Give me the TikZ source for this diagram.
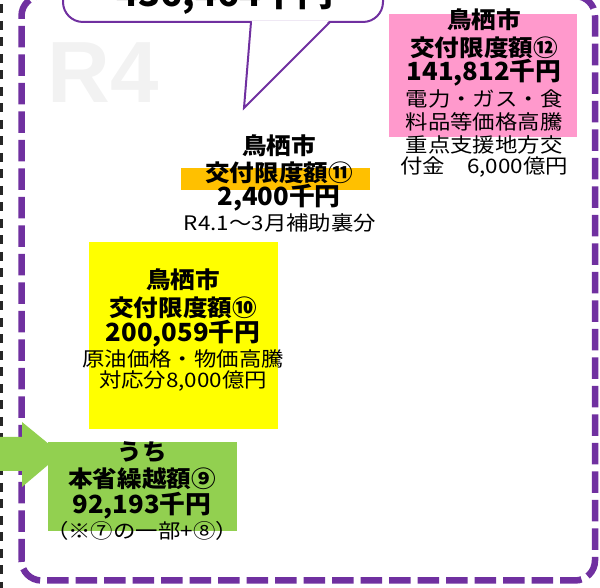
\documentclass[tikz,border=0pt]{standalone}
\usepackage{fontspec}
\setmainfont{Noto Sans CJK JP}
\newfontfamily\wmfont{Liberation Sans}
\newfontfamily\nfont[FakeStretch=1.12]{Noto Sans CJK JP}
\newfontfamily\bfont[FakeStretch=1.07]{Noto Sans CJK JP}
\newfontfamily\afont[FakeStretch=1.03]{Noto Sans CJK JP}
\definecolor{purp}{HTML}{7030A0}
\definecolor{pinkc}{HTML}{FF99CC}
\definecolor{orangec}{HTML}{FFC000}
\definecolor{yellowc}{HTML}{FFFF00}
\definecolor{greenc}{HTML}{92D050}
\definecolor{wmc}{HTML}{F2F2F2}
\begin{document}
\begin{tikzpicture}[x=1pt,y=1pt,
  boxs/.style={draw=none,inner sep=0,outer sep=0},
  bl/.style={inner sep=0,font=\bfont\fontsize{23}{25}\selectfont\bfseries},
  amt/.style={inner sep=0,font=\afont\fontsize{25}{27}\selectfont\bfseries},
  nl/.style={inner sep=0,font=\nfont\fontsize{20}{22}\selectfont},
  purpdash/.style={draw=purp,line width=6.5pt,dash pattern=on 21.5pt off 7pt},
  blackdash/.style={draw=black!85,line width=2.2pt,dash pattern=on 9pt off 7.5pt}]
\useasboundingbox (0,0) rectangle (600,588);
% outer black dashed line
\coordinate (bt) at (1.5,600);
\coordinate (bb) at (1.5,-10);
\draw[blackdash] (bt) -- (bb);
% purple dashed rounded frame
\draw[purpdash,rounded corners=20pt] (21.5,7.5) rectangle (595,592);
% watermark
\node[anchor=base west,inner sep=0,text=wmc,font=\wmfont\bfseries\fontsize{87}{87}\selectfont] (wm) at (47,485) {R4};
% callout
\draw[purp,line width=2pt,fill=white,rounded corners=20pt] (63,566) rectangle (383,660);
\coordinate (cl) at (251,566);
\coordinate (cr) at (330,566);
\coordinate (ctip) at (244,480);
\fill[white] ([xshift=1pt,yshift=1.2pt]cl) -- (ctip) -- ([xshift=-1pt,yshift=1.2pt]cr) -- cycle;
\draw[purp,line width=2pt,line join=miter] (cl) -- (ctip) -- (cr);
\node[anchor=base,inner sep=0,font=\afont\fontsize{35}{37}\selectfont\bfseries] (total) at (225,581) {436,464千円};
% boxes
\node[boxs,fill=pinkc,minimum width=188pt,minimum height=123pt] (pink) at (483,512.5) {};
\node[boxs,fill=orangec,minimum width=189pt,minimum height=22pt] (orange) at (275.5,409) {};
\node[boxs,fill=yellowc,minimum width=189pt,minimum height=187pt] (yellow) at (183.5,252.5) {};
\node[boxs,fill=greenc,minimum width=189pt,minimum height=89pt] (green) at (142.5,101.5) {};
% pink texts
\node[bl] (p1) at (484,568) {鳥栖市};
\node[bl] (p2) at (484,540) {交付限度額⑫};
\node[amt] (p3) at (484,515) {141,812千円};
\node[nl] (p4) at (484,489.5) {電力・ガス・食};
\node[nl] (p5) at (484,466.5) {料品等価格高騰};
\node[nl] (p6) at (484,443) {重点支援地方交};
\node[nl] (p7) at (484,421.5) {付金　6,000億円};
% orange texts
\node[bl] (o1) at (279,442) {鳥栖市};
\node[bl] (o2) at (279,415.5) {交付限度額⑪};
\node[amt] (o3) at (279,390) {2,400千円};
\node[nl] (o4) at (280,365) {R4.1～3月補助裏分};
% yellow texts
\node[bl] (y1) at (183,308) {鳥栖市};
\node[bl] (y2) at (183,280.5) {交付限度額⑩};
\node[amt] (y3) at (183,254) {200,059千円};
\node[nl] (y4) at (183,229) {原油価格・物価高騰};
\node[nl] (y5) at (183,206.5) {対応分8,000億円};
% green texts
\node[bl] (g1) at (142,135.5) {うち};
\node[bl] (g2) at (142,109) {本省繰越額⑨};
\node[amt] (g3) at (142,82) {92,193千円};
\node[nl] (g4) at (142,57) {（※⑦の一部+⑧）};
% green block arrow
\fill[greenc] (-2,151) -- (22,151) -- (22,166) -- (61,134) -- (22,101) -- (22,117) -- (-2,117) -- cycle;
\end{tikzpicture}
\end{document}
